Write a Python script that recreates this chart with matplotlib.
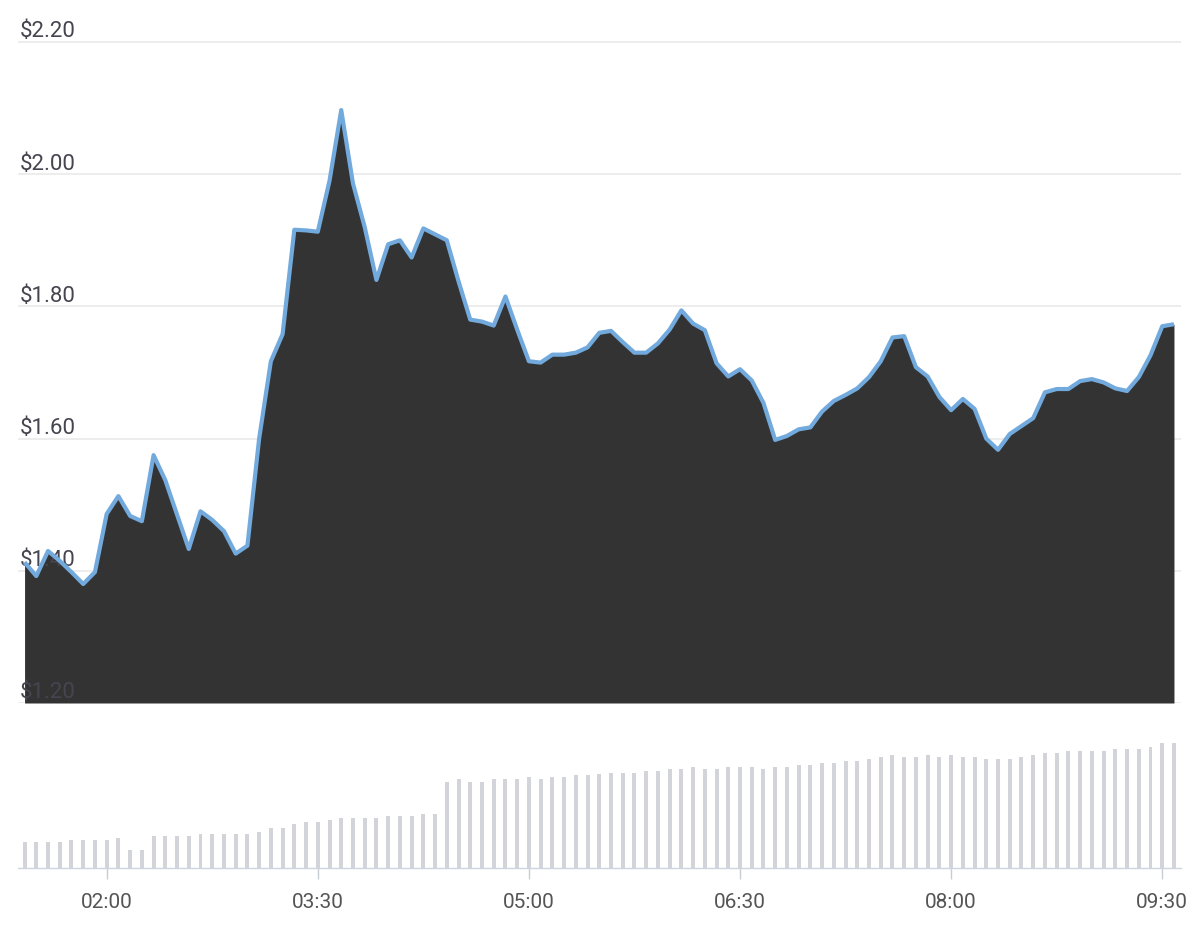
import matplotlib
matplotlib.use("Agg")
import matplotlib.pyplot as plt
import numpy as np

# ---------------- data ----------------
start_minute = 85          # 01:25
step_minutes = 5
price = [
    1.413, 1.392, 1.430, 1.415, 1.398, 1.380, 1.398, 1.486, 1.513, 1.483,
    1.475, 1.575, 1.537, 1.485, 1.433, 1.490, 1.477, 1.460, 1.426, 1.438,
    1.600, 1.717, 1.758, 1.916, 1.915, 1.913, 1.990, 2.097, 1.986, 1.920,
    1.840, 1.894, 1.900, 1.874, 1.918, 1.909, 1.900, 1.838, 1.780, 1.777,
    1.771, 1.815, 1.765, 1.717, 1.715, 1.727, 1.727, 1.730, 1.738, 1.760,
    1.763, 1.746, 1.730, 1.730, 1.744, 1.765, 1.794, 1.774, 1.764, 1.714,
    1.694, 1.705, 1.688, 1.654, 1.598, 1.604, 1.614, 1.617, 1.641, 1.657,
    1.666, 1.676, 1.693, 1.717, 1.753, 1.755, 1.708, 1.694, 1.663, 1.643,
    1.660, 1.645, 1.600, 1.583, 1.607, 1.619, 1.631, 1.670, 1.675, 1.675,
    1.687, 1.690, 1.685, 1.676, 1.672, 1.693, 1.726, 1.770, 1.773,
]
volume = [
    7.6, 7.6, 7.6, 7.6, 8.2, 8.2, 8.2, 8.2, 8.8, 5.2,
    5.2, 9.4, 9.4, 9.4, 9.4, 10.0, 10.0, 10.0, 10.0, 10.0,
    10.6, 11.8, 11.8, 13.0, 13.6, 13.6, 14.2, 14.8, 14.8, 14.8,
    14.8, 15.4, 15.4, 15.4, 16.0, 16.0, 25.6, 26.2, 25.6, 25.6,
    26.2, 26.2, 26.2, 26.8, 26.2, 26.8, 26.8, 27.4, 27.4, 27.7,
    28.0, 28.0, 28.0, 28.6, 28.6, 29.2, 29.2, 29.8, 29.2, 29.2,
    29.8, 29.8, 29.8, 29.2, 29.8, 29.8, 30.4, 30.4, 31.0, 31.0,
    31.6, 31.6, 32.2, 32.8, 33.4, 32.8, 32.8, 33.4, 32.8, 33.4,
    32.8, 32.8, 32.2, 32.2, 32.2, 32.8, 33.4, 34.0, 34.0, 34.6,
    34.6, 34.6, 34.6, 35.2, 35.2, 35.2, 35.8, 37.0, 37.0,
]
price_ticks = [1.20, 1.40, 1.60, 1.80, 2.00, 2.20]
time_ticks = [120, 210, 300, 390, 480, 570]
time_labels = ["02:00", "03:30", "05:00", "06:30", "08:00", "09:30"]

# ---------------- figure ----------------
W, H = 1199, 925
fig = plt.figure(figsize=(W / 100, H / 100), dpi=100)
fig.patch.set_facecolor("white")

t = start_minute + step_minutes * np.arange(len(price))

def px_axes(x0, y0, x1, y1):
    return fig.add_axes([x0 / W, 1 - y1 / H, (x1 - x0) / W, (y1 - y0) / H])

xlim = (t[0] - 2.8, t[-1] + 3.0)

# price axes
ax = px_axes(18, 20, 1181, 703)
ax.set_xlim(*xlim)
ppu = (703 - 42) / 1.0
ax.set_ylim(1.20, 2.20 + 22 / ppu)
ax.axis("off")
for v in price_ticks:
    ax.axhline(v, color="#ececec", lw=1.3, zorder=0)
ax.fill_between(t, price, 1.20, color="#333333", lw=0, zorder=1)
for v in price_ticks:
    ax.text(0.0017, v + 4.5 / ppu, f"${v:.2f}", transform=ax.get_yaxis_transform(),
            ha="left", va="baseline", fontsize=16, family="Roboto",
            color="#454550", zorder=2)
ax.plot(t, price, color="#72aadd", lw=3.0, solid_joinstyle="round",
        solid_capstyle="butt", zorder=3)

# volume axes
vax = px_axes(18, 720, 1181, 868)
vax.set_xlim(*xlim)
vmax = 37.0
vax.set_ylim(0, vmax * 148 / 125)
vax.bar(t, volume, width=1.7, color="#d3d4d9", lw=0, zorder=1)
for s in ["top", "right", "left"]:
    vax.spines[s].set_visible(False)
vax.spines["bottom"].set_color("#cdd6e0")
vax.spines["bottom"].set_linewidth(1.0)
vax.set_yticks([])
vax.set_xticks(time_ticks)
vax.set_xticklabels(time_labels)
vax.tick_params(axis="x", length=8, width=1, color="#c8ccd4", pad=10,
                labelsize=15, labelcolor="#555555")
for lbl in vax.get_xticklabels():
    lbl.set_family("Roboto")
vax.patch.set_alpha(0)

fig.savefig("out.png", dpi=100, facecolor="white")
